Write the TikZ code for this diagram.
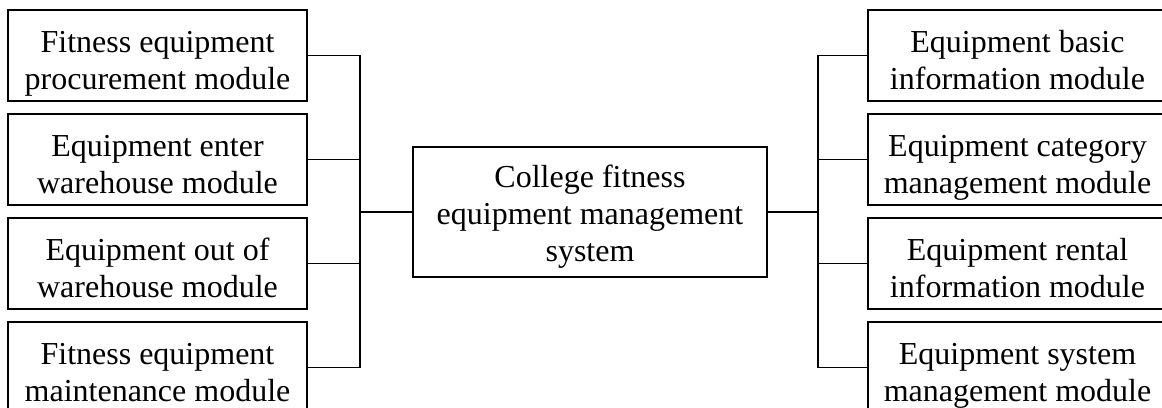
\documentclass[tikz,border=0pt]{standalone}
\usepackage{fontspec}
\setmainfont{Liberation Serif}
% invisible struts fixing the first baseline and the bottom depth of a label
\newcommand\hiline[1]{\rule{0pt}{#1}}
\newcommand\loline{\rule[-8pt]{0pt}{8pt}}
\begin{document}
\begin{tikzpicture}[x=1pt,y=-1pt,
  module/.style={draw,line width=1.6pt,minimum width=299pt,minimum height=91pt,
    inner sep=0pt,align=center,font=\fontsize{32}{37}\selectfont},
  hub/.style={module,minimum width=354pt,minimum height=130pt},
  link/.style={line width=1.5pt}]
\useasboundingbox (0,0) rectangle (1162,407);
\clip (0,0) rectangle (1162,407);

% central system box
\node[hub] (sys) at (590,212)
  {\hiline{32pt}College fitness\\equipment management\\system\loline};

% left-hand modules
\node[module] (l1) at (157.5,55.5)  {\hiline{38pt}Fitness equipment\\procurement module\loline};
\node[module] (l2) at (157.5,159.5) {\hiline{38pt}Equipment enter\\warehouse module\loline};
\node[module] (l3) at (157.5,263.5) {\hiline{38pt}Equipment out of\\warehouse module\loline};
\node[module] (l4) at (157.5,367.5) {\hiline{38pt}Fitness equipment\\maintenance module\loline};

% right-hand modules
\node[module] (r1) at (1017.5,55.5)  {\hiline{38pt}Equipment basic\\information module\loline};
\node[module] (r2) at (1017.5,159.5) {\hiline{38pt}Equipment category\\management module\loline};
\node[module] (r3) at (1017.5,263.5) {\hiline{38pt}Equipment rental\\information module\loline};
\node[module] (r4) at (1017.5,367.5) {\hiline{38pt}Equipment system\\management module\loline};

% bus junctions
\coordinate (busL) at (360,212);
\coordinate (busR) at (818,212);

\foreach \m in {l1,l2,l3,l4} \draw[link] (\m.east) -| (busL);
\foreach \m in {r1,r2,r3,r4} \draw[link] (\m.west) -| (busR);
\draw[link] (busL) -- (sys.west);
\draw[link] (sys.east) -- (busR);
\end{tikzpicture}
\end{document}
